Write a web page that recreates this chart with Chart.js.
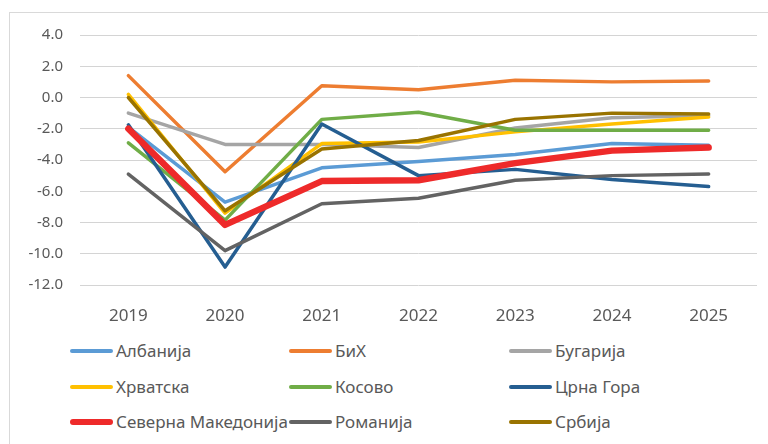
<!DOCTYPE html>
<html>
<head>
<meta charset="utf-8">
<script src="https://cdn.jsdelivr.net/npm/chart.js@4/dist/chart.umd.min.js"></script>
<style>
  body { margin: 0; background: #fff; width: 768px; height: 444px; overflow: hidden; position: relative; }
  #frame { position: absolute; left: 9px; top: 12px; width: 800px; height: 500px; border: 1px solid #d9d9d9; z-index: 0; }
  #chart { position: absolute; left: 0; top: 0; z-index: 1; }
  #legend { position: absolute; left: 0; top: 330px; width: 768px; height: 114px; font-family: "Noto Sans", sans-serif; font-size: 17px; color: #595959; z-index: 2; }
  .item { position: absolute; height: 24px; white-space: nowrap; }
  .item .ln { position: absolute; left: 0; width: 43px; border-radius: 3px; }
  .item .tx { position: absolute; left: 46px; top: 0; line-height: 24px; }
</style>
</head>
<body>
<div id="frame"></div>
<canvas id="chart" width="768" height="330"></canvas>
<div id="legend"></div>
<script>
const years = ['2019', '2020', '2021', '2022', '2023', '2024', '2025']
const yMin = -12
const yMax = 4
const yStep = 2

const albanija = [-1.9, -6.7, -4.5, -4.1, -3.65, -2.95, -3.05]
const bih      = [1.4, -4.75, 0.75, 0.5, 1.1, 1.0, 1.05]
const bugarija = [-1.0, -3.0, -3.0, -3.2, -1.95, -1.3, -1.15]
const hrvatska = [0.2, -7.4, -2.95, -2.85, -2.2, -1.7, -1.25]
const kosovo   = [-2.9, -7.85, -1.4, -0.95, -2.1, -2.1, -2.1]
const crnaGora = [-1.75, -10.85, -1.7, -5.0, -4.6, -5.25, -5.7]
const sevMak   = [-2.0, -8.15, -5.35, -5.3, -4.2, -3.4, -3.2]
const romanija = [-4.9, -9.8, -6.8, -6.45, -5.3, -5.0, -4.9]
const srbija   = [0.0, -7.25, -3.3, -2.75, -1.4, -1.0, -1.05]

const names  = ['Албанија', 'БиХ', 'Бугарија', 'Хрватска', 'Косово', 'Црна Гора', 'Северна Македонија', 'Романија', 'Србија']
const series = [albanija, bih, bugarija, hrvatska, kosovo, crnaGora, sevMak, romanija, srbija]
const colors = ['#5B9BD5', '#ED7D31', '#A5A5A5', '#FFC000', '#70AD47', '#255E91', '#EE2A2A', '#636363', '#997300']

const datasets = names.map(function(name, i){
    return {
        label: name,
        data: series[i],
        borderColor: colors[i],
        backgroundColor: colors[i],
        borderWidth: i === 6 ? 6.5 : 3.5,
        pointRadius: 0,
        tension: 0,
        borderJoinStyle: 'round',
        borderCapStyle: 'round',
        order: names.length - i   // later series on top, like the original
    }
})

const ctx = document.getElementById('chart').getContext('2d')
new Chart(ctx, {
    type: 'line',
    data: { labels: years, datasets: datasets },
    options: {
        responsive: false,
        animation: false,
        layout: { padding: { top: 35, right: 11, left: 0, bottom: 0 } },
        plugins: { legend: { display: false }, tooltip: { enabled: false } },
        scales: {
            x: {
                offset: true,
                grid: { display: false },
                border: { display: false },
                ticks: { color: '#595959', font: { family: 'Noto Sans', size: 17 }, padding: 13 },
                afterFit: function(scale){ scale.height = 45 }
            },
            y: {
                min: yMin,
                max: yMax,
                ticks: {
                    stepSize: yStep,
                    color: '#595959',
                    font: { family: 'Noto Sans', size: 15 },
                    padding: 17,
                    callback: v => v.toFixed(1)
                },
                grid: { color: '#d4d4d4', lineWidth: 1, drawTicks: false },
                border: { display: false },
                afterFit: function(scale){ scale.width = 80 }
            }
        }
    }
})

// legend: 3 columns x 3 rows
const colX = [70, 289, 509]
const rowY = [21, 57, 92]
const legend = document.getElementById('legend')
names.forEach(function(name, i){
    const item = document.createElement('div')
    item.className = 'item'
    item.style.left = colX[i % 3] + 'px'
    item.style.top = (rowY[Math.floor(i / 3)] - 12) + 'px'
    const ln = document.createElement('div')
    ln.className = 'ln'
    const h = i === 6 ? 6 : 4
    ln.style.height = h + 'px'
    ln.style.top = (12 - h / 2) + 'px'
    ln.style.background = colors[i]
    const tx = document.createElement('span')
    tx.className = 'tx'
    tx.textContent = name
    item.appendChild(ln)
    item.appendChild(tx)
    legend.appendChild(item)
})
</script>
</body>
</html>
